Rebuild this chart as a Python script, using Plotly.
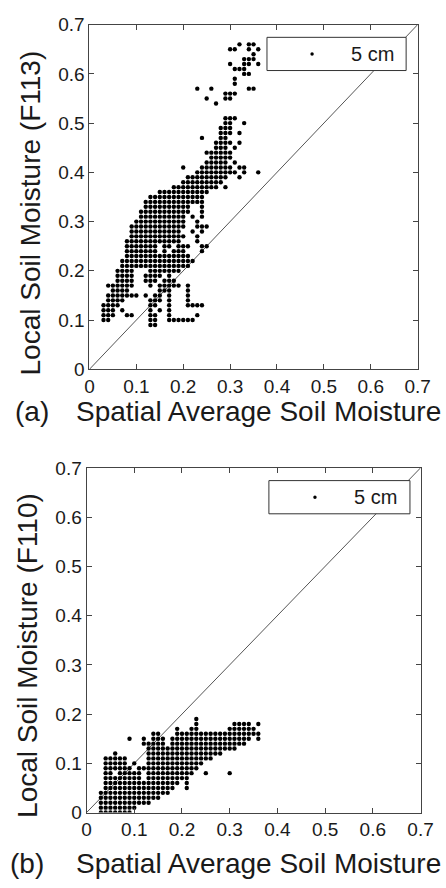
import plotly.graph_objects as go

# ---------------- DATA (values in hundredths of volumetric soil moisture) -------------
# Panel (a): local sensor F113 vs spatial average, 5 cm depth.
# Each row: local moisture level, and the spatial-average values observed at that level
a_rows_y = [66, 65, 64, 63, 62, 61, 60, 59, 58, 57, 56, 55, 54, 51, 50, 49, 48, 47, 46, 45,
            44, 43, 42, 41, 40, 39, 38, 37, 36, 35, 34, 33, 32, 31, 30, 29, 28, 27, 26, 25,
            24, 23, 22, 21, 20, 19, 18, 17, 16, 15, 14, 13, 12, 11, 10, 9]
a_rows_x = ["32,34-35", "30-31,34,36", "35", "33-35", "30,33-34,36", "31-33", "33-34", "31", "31",
            "23,26,34-35", "29-31", "25,29-30", "27", "29-31", "29-30,33", "28-30", "28-30,32",
            "24,28-29", "27-30,32", "27-29,31", "25-30", "26-30", "25-29,31", "20,24-30,32-33",
            "23-31,33,36", "21-29,32", "20-28", "18-27,29", "15-25", "13-24", "12-24", "12-21,24",
            "11-21,24", "11-20,22,24", "10-20,23", "9-20,23-25", "9-19,22,24", "9-20,23",
            "8-19,23", "8-14,16-17,19-21,24-25", "8-14,16,18-20,24", "8-21", "7-22", "7-21",
            "6-9,13-19", "6-9,12-15,17", "6-9,12-14,16-18", "4-9,13,15-16,17-19,21",
            "5-8,15-16,17,21", "4-10,12,14-15,17,21", "4-7,13-15,17,21", "3-6,13-14,17,21-24",
            "3-5,7,13,15,17", "3-5,8-9,13-14,17,23", "3-4,13-14,17-22", "13-14"]

# Panel (b): local sensor F110 vs spatial average, 5 cm depth.
b_rows_y = [19, 18, 17, 16, 15, 14, 13, 12, 11, 10, 9, 8, 7, 6, 5, 4, 3, 2, 1, 0]
b_rows_x = ["23", "23,31-34,36", "19,22-23,30-35", "14-15,19-36", "9,12,14-16,18-34,36",
            "12-16,18-33", "13-31", "6,13-28", "4-8,13-26", "4-8,10,13-24", "4-9,11-23",
            "4-5,7-11,13-22,25,30", "4-11,13-21", "4-19,21", "4-18,21", "3-17", "3-15",
            "3-13", "3-10", "3-9"]

x_ticks = [0, 0.1, 0.2, 0.3, 0.4, 0.5, 0.6, 0.7]
x_tick_labels = ["0", "0.1", "0.2", "0.3", "0.4", "0.5", "0.6", "0.7"]
series_name = "5 cm"
y_titles = ["Local Soil Moisture (F113)", "Local Soil Moisture (F110)"]
x_title = "Spatial Average Soil Moisture"
panel_tags = ["(a)", "(b)"]


def expand(rows_y, rows_x):
    xs, ys = [], []
    for yv, spec in zip(rows_y, rows_x):
        for part in spec.split(","):
            if "-" in part:
                lo, hi = part.split("-")
                vals = range(int(lo), int(hi) + 1)
            else:
                vals = [int(part)]
            for v in vals:
                xs.append(v / 100)
                ys.append(yv / 100)
    return xs, ys


ax, ay = expand(a_rows_y, a_rows_x)
bx, by = expand(b_rows_y, b_rows_x)

W, H = 446, 888
FONT = "Liberation Sans, Arial, sans-serif"
TXT = "#1a1a1a"


def px(x):
    return x / W


def py(y):
    return 1 - y / H


fig = go.Figure()

# 1:1 reference lines
for xa, ya in (("x", "y"), ("x2", "y2")):
    fig.add_trace(go.Scatter(x=[0, 0.7], y=[0, 0.7], mode="lines", xaxis=xa, yaxis=ya,
                             line=dict(color="#555555", width=1), showlegend=False,
                             hoverinfo="skip"))

mk = dict(color="black", size=4.4, symbol="circle", line=dict(width=0))
fig.add_trace(go.Scatter(x=ax, y=ay, mode="markers", name=series_name, xaxis="x", yaxis="y",
                         marker=mk, showlegend=False))
fig.add_trace(go.Scatter(x=bx, y=by, mode="markers", name=series_name, xaxis="x2", yaxis="y2",
                         marker=mk, showlegend=False))

axis_common = dict(range=[0, 0.7], tickvals=x_ticks, ticktext=x_tick_labels, ticks="inside",
                   ticklen=5, tickcolor="#444", mirror="allticks", showline=True,
                   linecolor="#444", linewidth=1, showgrid=False, zeroline=False,
                   tickfont=dict(family=FONT, size=19, color=TXT))

# panel geometry in pixels
pa = dict(l=88, r=430, t=15, b=368)
pb = dict(l=85, r=433, t=469, b=822)

fig.update_layout(
    width=W, height=H, margin=dict(l=0, r=0, t=0, b=0),
    paper_bgcolor="white", plot_bgcolor="white", showlegend=False,
    xaxis=dict(domain=[px(pa["l"]), px(pa["r"])], anchor="y", **axis_common),
    yaxis=dict(domain=[py(pa["b"]), py(pa["t"])], anchor="x", **axis_common),
    xaxis2=dict(domain=[px(pb["l"]), px(pb["r"])], anchor="y2", **axis_common),
    yaxis2=dict(domain=[py(pb["b"]), py(pb["t"])], anchor="x2", **axis_common),
)

annotations = []
shapes = []
for i, p in enumerate((pa, pb)):
    base = p["b"]
    ty = base + 43 if i == 0 else base + 52
    annotations.append(dict(x=px(8 if i == 0 else 3), y=py(ty), xref="paper", yref="paper",
                            text=panel_tags[i], showarrow=False, xanchor="left",
                            yanchor="middle", font=dict(family=FONT, size=28, color=TXT)))
    annotations.append(dict(x=px(72), y=py(ty), xref="paper", yref="paper", text=x_title,
                            showarrow=False, xanchor="left", yanchor="middle",
                            font=dict(family=FONT, size=28, color=TXT)))
    annotations.append(dict(x=px(27 if i == 0 else 24), y=py((p["t"] + p["b"]) / 2 + 16),
                            xref="paper", yref="paper", text=y_titles[i], showarrow=False,
                            textangle=-90, xanchor="center", yanchor="middle",
                            font=dict(family=FONT, size=28, color=TXT)))

# legend boxes (drawn as decorations so they mask the 1:1 line like the original)
legs = [dict(x0=273, x1=418, y0=28, y1=62, dot=(320, 45), tx=407),
        dict(x0=275, x1=422, y0=482, y1=516, dot=(323, 499), tx=411)]
for lg in legs:
    shapes.append(dict(type="rect", xref="paper", yref="paper", x0=px(lg["x0"]), x1=px(lg["x1"]),
                       y0=py(lg["y1"]), y1=py(lg["y0"]), line=dict(color="#333", width=1),
                       fillcolor="white", layer="above"))
    cx, cy = lg["dot"]
    shapes.append(dict(type="circle", xref="paper", yref="paper", x0=px(cx - 1.8), x1=px(cx + 1.8),
                       y0=py(cy + 1.8), y1=py(cy - 1.8), line=dict(width=0),
                       fillcolor="black", layer="above"))
    annotations.append(dict(x=px(lg["tx"]), y=py(cy), xref="paper", yref="paper",
                            text=series_name, showarrow=False, xanchor="right",
                            yanchor="middle", font=dict(family=FONT, size=20, color=TXT)))

fig.update_layout(annotations=annotations, shapes=shapes)
fig.write_html("out.html")
